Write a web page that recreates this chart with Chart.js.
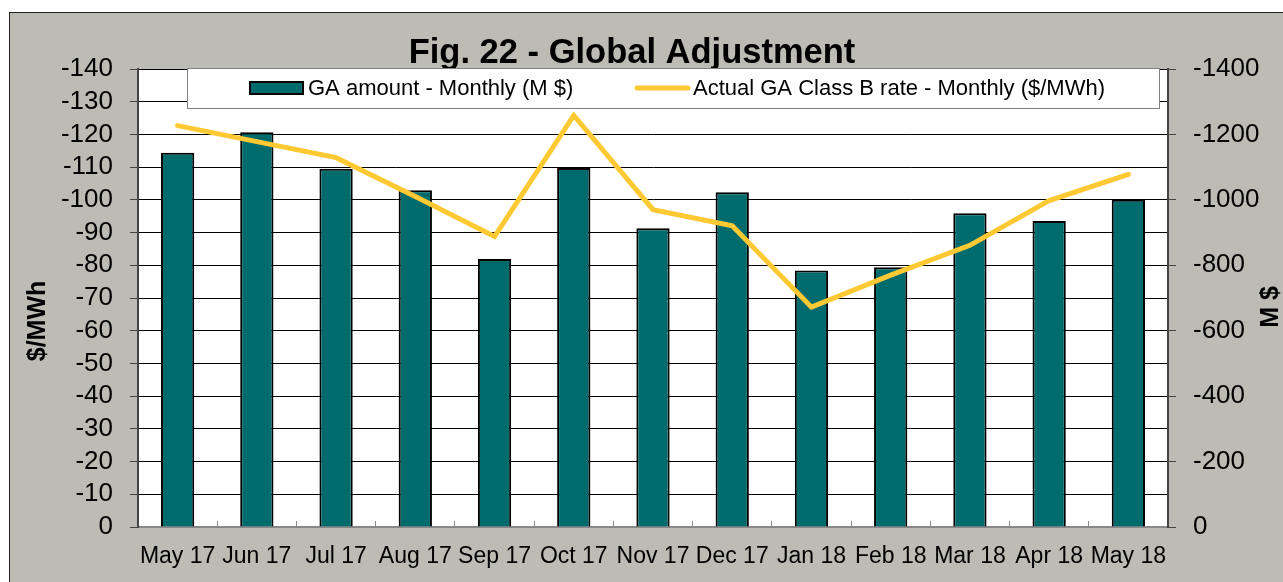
<!DOCTYPE html>
<html>
<head>
<meta charset="utf-8">
<script src="https://cdn.jsdelivr.net/npm/chart.js@4.4.1/dist/chart.umd.min.js"></script>
<style>
  html, body { margin: 0; background: #fff; }
  #frame {
    position: absolute; left: 9px; top: 12px; width: 1274px; height: 570px;
    background: #bcbcb4; border-top: 1px solid #222; border-left: 1px solid #222;
    box-sizing: border-box;
  }
  canvas { display: block; }
</style>
</head>
<body>
<div id="frame"><canvas id="chart" width="1273" height="569"></canvas></div>
<script>
const months = ["May 17", "Jun 17", "Jul 17", "Aug 17", "Sep 17", "Oct 17", "Nov 17",
  "Dec 17", "Jan 18", "Feb 18", "Mar 18", "Apr 18", "May 18"]

// GA amount - Monthly (M $), right axis
const gaAmount = [-1144, -1207, -1095, -1029, -819, -1097, -913, -1023, -784, -794, -959, -935, -1000]

// Actual GA Class B rate - Monthly ($/MWh), left axis
const gaRate = [-122.7, -117.8, -112.9, -101.0, -88.8, -125.8, -97.0, -92.1, -67.2, -77.0, -86.1, -99.8, -107.8]

const rateTicks = { min: -140, max: 0, step: 10 }
const amountTicks = { min: -1400, max: 0, step: 200 }

const FONT = "'Liberation Sans', Arial, sans-serif"
const BAR_COLOR = "#006b6c"
const LINE_COLOR = "#ffc933"

const plotBackground = {
  id: "plotBackground",
  afterLayout(chart) {
    // the right padding only moves the title; let the right tick labels use that space
    chart.scales.y1.right = chart.width
  },
  beforeDraw(chart) {
    const { ctx, chartArea: a } = chart
    ctx.save()
    ctx.fillStyle = "#fff"
    ctx.fillRect(a.left, a.top, a.right - a.left, a.bottom - a.top)
    ctx.restore()
  }
}

// legend box sits over the top of the plot, like the original
const boxLegend = {
  id: "boxLegend",
  afterDatasetsDraw(chart) {
    const ctx = chart.ctx
    ctx.save()
    ctx.fillStyle = "#fff"
    ctx.fillRect(177, 55, 972, 40)
    ctx.strokeStyle = "#808080"
    ctx.lineWidth = 1
    ctx.strokeRect(177.5, 55.5, 972, 40)

    ctx.fillStyle = BAR_COLOR
    ctx.fillRect(240, 69, 53, 12)
    ctx.strokeStyle = "#000"
    ctx.lineWidth = 2
    ctx.strokeRect(240, 69, 53, 12)

    ctx.strokeStyle = LINE_COLOR
    ctx.lineWidth = 5
    ctx.lineCap = "round"
    ctx.beginPath()
    ctx.moveTo(627, 75)
    ctx.lineTo(678, 75)
    ctx.stroke()

    ctx.fillStyle = "#000"
    ctx.font = "22px " + FONT
    ctx.textBaseline = "middle"
    ctx.textAlign = "left"
    ctx.fillText(chart.data.datasets[1].label, 298, 76)
    ctx.fillText(chart.data.datasets[0].label, 683, 76)
    ctx.restore()
  }
}

const axisTitles = {
  id: "axisTitles",
  afterDraw(chart) {
    const ctx = chart.ctx
    ctx.save()
    ctx.fillStyle = "#000"
    ctx.font = "bold 25px " + FONT
    ctx.textAlign = "center"
    ctx.textBaseline = "middle"
    ctx.translate(28, 308)
    ctx.rotate(-Math.PI / 2)
    ctx.fillText("$/MWh", 0, 0)
    ctx.restore()

    ctx.save()
    ctx.fillStyle = "#000"
    ctx.font = "bold 25px " + FONT
    ctx.textAlign = "center"
    ctx.textBaseline = "middle"
    ctx.translate(1261, 294)
    ctx.rotate(-Math.PI / 2)
    ctx.fillText("M $", 0, 0)
    ctx.restore()
  }
}

new Chart(document.getElementById("chart"), {
  data: {
    labels: months,
    datasets: [{
        type: "line",
        label: "Actual GA Class B rate - Monthly ($/MWh)",
        data: gaRate,
        yAxisID: "y",
        borderColor: LINE_COLOR,
        borderWidth: 5,
        borderCapStyle: "round",
        pointRadius: 0,
        tension: 0,
        order: 1
      },
      {
        type: "bar",
        label: "GA amount - Monthly (M $)",
        data: gaAmount,
        yAxisID: "y1",
        backgroundColor: BAR_COLOR,
        borderColor: "#000",
        borderWidth: 2,
        barPercentage: 0.42,
        categoryPercentage: 1,
        order: 2
      }
    ]
  },
  options: {
    responsive: false,
    animation: false,
    layout: {
      padding: { left: 0, right: 29, top: 0, bottom: 0 }
    },
    plugins: {
      legend: { display: false },
      tooltip: { enabled: false },
      title: {
        display: true,
        text: "Fig. 22 - Global Adjustment",
        color: "#000",
        font: { family: FONT, size: 34.5, weight: "bold", lineHeight: 31 / 34.5 },
        padding: { top: 25, bottom: 0 }
      }
    },
    scales: {
      x: {
        offset: true,
        afterFit: s => { s.height = 55 },
        grid: {
          offset: true,
          drawOnChartArea: false,
          drawTicks: true,
          tickLength: -6,
          tickColor: "#888",
          tickWidth: 1
        },
        border: { color: "#888", width: 2 },
        ticks: {
          color: "#000",
          font: { family: FONT, size: 23 },
          padding: 22,
          maxRotation: 0,
          autoSkip: false
        }
      },
      y: {
        position: "left",
        reverse: true,
        min: rateTicks.min,
        max: rateTicks.max,
        afterFit: s => { s.width = 128 },
        grid: {
          color: "#000",
          lineWidth: 1,
          tickLength: 8,
          tickColor: "#444"
        },
        border: { color: "#444", width: 2 },
        ticks: {
          stepSize: rateTicks.step,
          autoSkip: false,
          color: "#000",
          font: { family: FONT, size: 26 },
          padding: 17,
          callback: v => String(v)
        }
      },
      y1: {
        position: "right",
        reverse: true,
        min: amountTicks.min,
        max: amountTicks.max,
        afterFit: s => { s.width = 86 },
        grid: {
          drawOnChartArea: false,
          tickLength: 8,
          tickColor: "#444"
        },
        border: { color: "#444", width: 2 },
        ticks: {
          stepSize: amountTicks.step,
          autoSkip: false,
          color: "#000",
          font: { family: FONT, size: 26 },
          padding: 17,
          callback: v => String(v)
        }
      }
    }
  },
  plugins: [plotBackground, boxLegend, axisTitles]
})
</script>
</body>
</html>
